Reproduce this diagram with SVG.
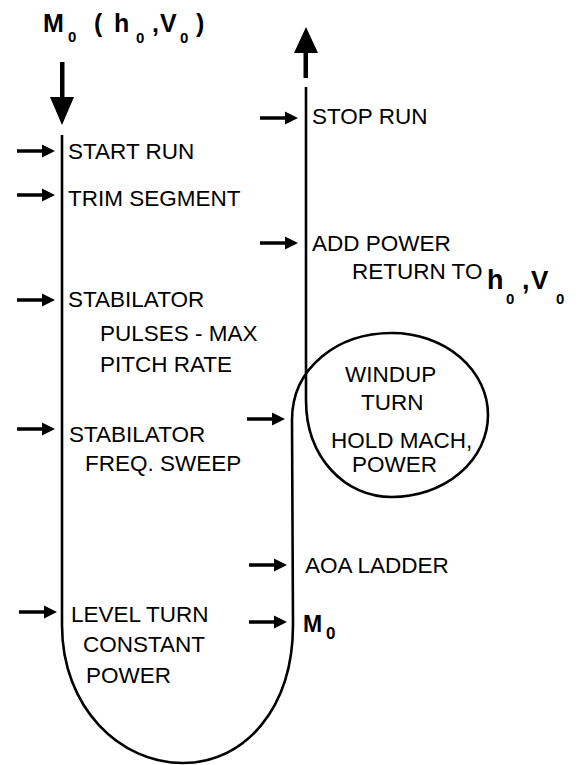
<svg xmlns="http://www.w3.org/2000/svg" width="580" height="765" viewBox="0 0 580 765">
<style>
.t{font-family:"Liberation Sans",Arial,sans-serif;font-size:22.5px;fill:#000}
.b{font-family:"Liberation Sans",Arial,sans-serif;font-weight:bold;fill:#000}
.ln{fill:none;stroke:#000;stroke-width:2.6}
</style>
<defs>
<path id="ha" d="M-38,-1.7 L-13,-1.7 L-13,-6.5 L0,0 L-13,6.5 L-13,1.7 L-38,1.7 Z" fill="#000"/>
</defs>
<rect width="580" height="765" fill="#fff"/>
<g id="connectors">
<path class="ln" d="M62,135 L62,625 C62,708 120,763 183,763 C245,763 293,708 293,625 L292,420 C292,368 337,333 392,333 A96,82 0 0 1 488,415 A96,82 0 0 1 392,497 C345,497 306,458 306,400 L306,87"/>
<path d="M60,62 L64.5,62 L64.5,97 L74,97 L62,125 L50,97 L60,97 Z" fill="#000"/>
<path d="M303.5,78 L308,78 L308,53 L318,53 L306,27 L294,53 L303.5,53 Z" fill="#000"/>
<use href="#ha" x="55" y="151"/>
<use href="#ha" x="55" y="195"/>
<use href="#ha" x="55" y="300"/>
<use href="#ha" x="55" y="429"/>
<use href="#ha" x="57" y="612"/>
<use href="#ha" x="298" y="118"/>
<use href="#ha" x="298" y="243"/>
<use href="#ha" x="285" y="419"/>
<use href="#ha" x="287" y="565"/>
<use href="#ha" x="287" y="622"/>
</g>
<g id="title">
<text class="b" font-size="25" x="43" y="32">M</text>
<text class="b" font-size="15" x="68" y="42">0</text>
<text class="b" font-size="25" x="94" y="32">(</text>
<text class="b" font-size="25" x="114" y="32">h</text>
<text class="b" font-size="15" x="136" y="43">0</text>
<text class="b" font-size="25" x="152" y="32">,</text>
<text class="b" font-size="25" x="160" y="32">V</text>
<text class="b" font-size="15" x="180" y="43">0</text>
<text class="b" font-size="25" x="196" y="32">)</text>
</g>
<g id="start-run"><text class="t" x="68" y="159">START RUN</text></g>
<g id="trim-segment"><text class="t" x="68" y="206">TRIM SEGMENT</text></g>
<g id="stab-pulses"><text class="t" x="68" y="307">STABILATOR</text><text class="t" x="100" y="341">PULSES - MAX</text><text class="t" x="100" y="372">PITCH RATE</text></g>
<g id="stab-sweep"><text class="t" x="69" y="442">STABILATOR</text><text class="t" x="85" y="471">FREQ. SWEEP</text></g>
<g id="level-turn"><text class="t" x="71" y="622">LEVEL TURN</text><text class="t" x="83" y="652">CONSTANT</text><text class="t" x="86" y="683">POWER</text></g>
<g id="stop-run"><text class="t" x="312" y="124">STOP RUN</text></g>
<g id="add-power"><text class="t" x="312" y="251">ADD POWER</text><text class="t" x="352" y="279">RETURN TO</text><text class="b" font-size="27" x="487" y="289">h</text><text class="b" font-size="15" x="506" y="304">0</text><text class="b" font-size="27" x="522" y="289">,</text><text class="b" font-size="26" x="531" y="289">V</text><text class="b" font-size="15" x="556" y="304">0</text></g>
<g id="windup"><text class="t" x="345" y="382">WINDUP</text><text class="t" x="361" y="410">TURN</text><text class="t" x="331" y="448">HOLD MACH,</text><text class="t" x="352" y="472">POWER</text></g>
<g id="aoa"><text class="t" x="305" y="573">AOA LADDER</text></g>
<g id="m0"><text class="b" font-size="23" x="303" y="632">M</text><text class="b" font-size="17" x="326" y="639">0</text></g>
</svg>
